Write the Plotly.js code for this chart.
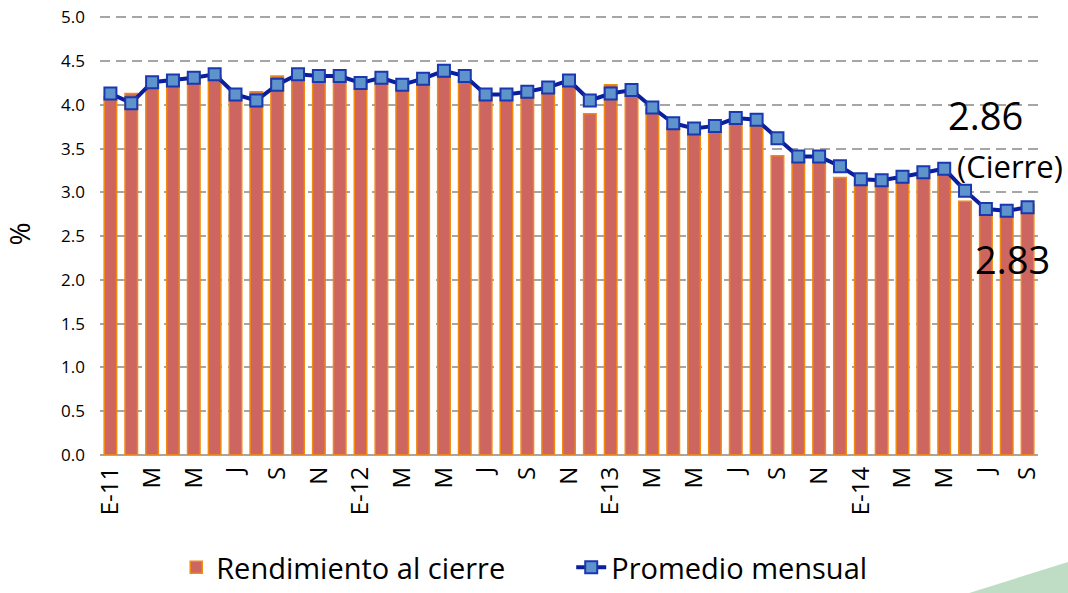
<!DOCTYPE html>
<html>
<head>
<meta charset="utf-8">
<script src="https://cdn.plot.ly/plotly-3.0.1.min.js"></script>
<style>html,body{margin:0;padding:0;background:#fff;}#chart{width:1068px;height:593px;}</style>
</head>
<body>
<div id="chart"></div>
<script>
// Monthly categories Jan 2011 - Sep 2014
const months = ["E","F","M","A","M","J","J","A","S","O","N","D"];
const years = ["11","12","13","14"];
const categories = [];
years.forEach(y => months.forEach((m, i) => {
  if (!(y === "14" && i > 8)) categories.push(m + "-" + y);
}));
// Tick labels shown every second month
const tickLabels = ["E-11","M","M","J","S","N","E-12","M","M","J","S","N","E-13","M","M","J","S","N","E-14","M","M","J","S"];

// Rendimiento al cierre (%)
const cierre = [4.10,4.13,4.22,4.27,4.36,4.33,4.12,4.15,4.33,4.35,4.33,4.33,
                4.25,4.28,4.22,4.28,4.36,4.28,4.10,4.10,4.12,4.18,4.25,3.90,
                4.23,4.15,3.95,3.74,3.67,3.70,3.82,3.76,3.42,3.35,3.35,3.17,
                3.12,3.12,3.15,3.20,3.22,2.90,2.80,2.77,2.86];
// Promedio mensual (%)
const promedio = [4.13,4.02,4.26,4.28,4.31,4.35,4.12,4.05,4.23,4.35,4.33,4.33,
                  4.25,4.31,4.23,4.30,4.39,4.33,4.12,4.12,4.15,4.20,4.28,4.05,
                  4.13,4.17,3.97,3.79,3.73,3.76,3.85,3.83,3.62,3.41,3.41,3.30,
                  3.15,3.14,3.18,3.23,3.27,3.02,2.81,2.79,2.83];

const xIdx = categories.map((c, i) => i);
const tickVals = xIdx.filter(i => i % 2 === 0);

const FONT = "'Open Sans', Lato, sans-serif";

const traces = [
  {
    type: "bar", name: "Rendimiento al cierre", x: xIdx, y: cierre,
    customdata: categories,
    marker: {color: "#CD6660", line: {color: "#F08A10", width: 1.5}}
  },
  {
    type: "scatter", mode: "lines+markers", name: "Promedio mensual", x: xIdx, y: promedio,
    line: {color: "#0A1E9E", width: 4},
    marker: {symbol: "square", size: 12, color: "#5F93CC", line: {color: "#1A38B0", width: 2}}
  }
];

const layout = {
  width: 1068, height: 593,
  margin: {l: 100, r: 30, t: 13, b: 138, autoexpand: false},
  paper_bgcolor: "#ffffff", plot_bgcolor: "#ffffff",
  font: {family: FONT, color: "#000", size: 16},
  bargap: 0.40,
  showlegend: true,
  legend: {orientation: "h", x: 0.165, xanchor: "left", xref: "container",
           y: -0.008, yanchor: "bottom", yref: "container",
           entrywidth: 350, entrywidthmode: "pixels",
           font: {size: 29, family: FONT}, traceorder: "normal"},
  xaxis: {
    range: [-0.5, 44.5], tickmode: "array", tickvals: tickVals, ticktext: tickLabels,
    tickangle: -90, showgrid: false, showline: false, zeroline: false, ticks: "",
    tickfont: {size: 24, family: FONT}, automargin: false, ticklabelstandoff: 6
  },
  yaxis: {
    range: [0, 5.05], tickvals: [0,0.5,1,1.5,2,2.5,3,3.5,4,4.5,5], tickformat: ".1f", showgrid: true,
    gridcolor: "#A6A6A6", griddash: "10px,6px", gridwidth: 2,
    zeroline: true, zerolinecolor: "#A6A6A6", zerolinewidth: 2,
    ticks: "", tickfont: {size: 17, family: FONT}, automargin: false, ticklabelstandoff: 14,
    title: {text: "%", font: {size: 28, family: FONT}, standoff: 24}
  },
  annotations: [
    {xref: "x", yref: "y", x: 42.0, y: 3.89, text: "2.86", showarrow: false, font: {size: 38, family: FONT}},
    {xref: "x", yref: "y", x: 43.15, y: 3.30, text: "(Cierre)", showarrow: false, font: {size: 31, family: FONT}},
    {xref: "x", yref: "y", x: 43.3, y: 2.24, text: "2.83", showarrow: false, font: {size: 38, family: FONT}}
  ],
  shapes: [
    {type: "path", xref: "paper", yref: "paper", layer: "below",
     path: "M 0.915 -0.32 L 1.035 -0.24 L 1.035 -0.32 Z",
     fillcolor: "#BFDDC4", line: {width: 0}}
  ]
};

Plotly.newPlot("chart", traces, layout, {displayModeBar: false, staticPlot: true});
</script>
</body>
</html>
